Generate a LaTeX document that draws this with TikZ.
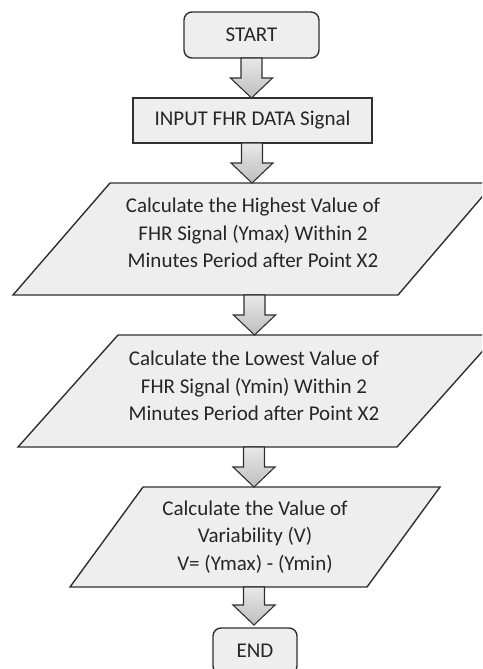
\documentclass[tikz,border=0pt]{standalone}
\usepackage{fontspec}
\setmainfont{Carlito}
\usetikzlibrary{calc}
\definecolor{edge}{HTML}{303030}
\definecolor{boxfill}{HTML}{EEEEEE}
\definecolor{txt}{HTML}{262626}
\definecolor{arrtop}{HTML}{E8E8E8}
\definecolor{arrbot}{HTML}{BEBEBE}

% block arrow from the bottom of one step to the top of the next
\newcommand\flowarrow[2]{%
  \draw[arrowbody] let \p1=(#1), \p2=(#2) in
    (\x1-10.5pt,\y1) -- (\x1+10.5pt,\y1) -- (\x1+10.5pt,\y2+20pt)
    -- (\x1+21pt,\y2+20pt) -- (\x1,\y2) -- (\x1-21pt,\y2+20pt)
    -- (\x1-10.5pt,\y2+20pt) -- cycle;}

\begin{document}
\begin{tikzpicture}[x=1pt,y=-1pt,
  box/.style={draw=edge, line width=1.4pt, fill=boxfill},
  lbl/.style={text=txt, font=\fontsize{21}{27.5}\selectfont, align=center, inner sep=0pt},
  terminal/.style={box, lbl, rounded corners=8pt, minimum height=46pt},
  arrowbody/.style={draw=edge, line width=1.1pt, line join=miter, top color=arrtop, bottom color=arrbot}
]
\useasboundingbox (0,0) rectangle (482,669);
\clip (0,0) rectangle (482,669);

% terminals and input box
\node[terminal, minimum width=135pt] (start) at (251.5,35) {START};
\node[box, lbl, minimum width=239pt, minimum height=45pt] (input) at (252.5,120.5) {INPUT FHR DATA Signal};

% process parallelograms
\draw[box] (110,183) -- (494,183) -- (398,295) -- (13,295) -- cycle;
\node[lbl] (ymax) at (253,233) {Calculate the Highest Value of\\FHR Signal (Ymax) Within 2\\Minutes Period after Point X2};
\coordinate (ymaxT) at (252,183);
\coordinate (ymaxB) at (254.5,295);

\draw[box] (118,335) -- (497,335) -- (397,447) -- (18,447) -- cycle;
\node[lbl] (ymin) at (254,386) {Calculate the Lowest Value of\\FHR Signal (Ymin) Within 2\\Minutes Period after Point X2};
\coordinate (yminT) at (254.5,335);
\coordinate (yminB) at (254,447);

\draw[box] (143,487) -- (440,487) -- (367,587) -- (70,587) -- cycle;
\node[lbl] (var) at (255,537) {Calculate the Value of\\Variability (V)\\V= (Ymax) - (Ymin)};
\coordinate (varT) at (254,487);
\coordinate (varB) at (254,587);

\node[terminal, minimum width=84pt] (end) at (255,651) {END};

% connectors
\coordinate (startB) at (251.5,58);
\coordinate (inputT) at (251.5,98);
\coordinate (inputB) at (252,143);
\flowarrow{startB}{inputT}
\flowarrow{inputB}{ymaxT}
\flowarrow{ymaxB}{yminT}
\flowarrow{yminB}{varT}
\coordinate (endT) at (254,625);
\flowarrow{varB}{endT}
\end{tikzpicture}
\end{document}
